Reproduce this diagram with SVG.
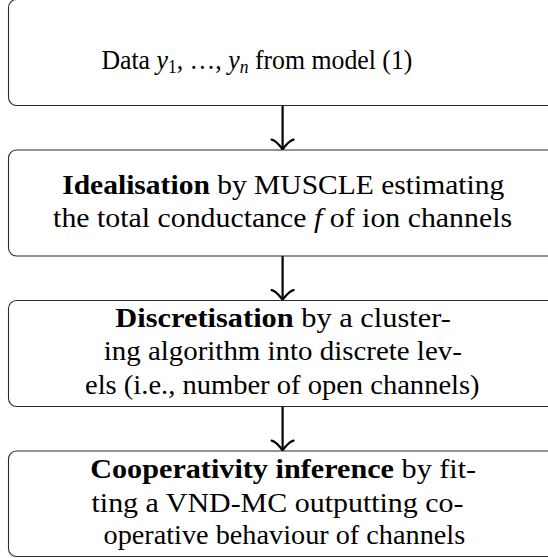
<svg xmlns="http://www.w3.org/2000/svg" width="548" height="558" viewBox="0 0 548 558">
<style>
.box{fill:#fff;stroke:#2a2a2a;stroke-width:1.1}
.t{font-family:"Liberation Serif","Times New Roman",serif;font-size:28px;fill:#000}
.b{font-weight:bold}
.i{font-style:italic}
.sub{font-size:19px}
.shaft{stroke:#000;stroke-width:2.2;fill:none}
.head{stroke:#000;stroke-width:2.2;fill:none;stroke-linecap:round;stroke-linejoin:round}
</style>
<rect width="548" height="558" fill="#fff"/>
<g id="connectors">
  <g id="arrow1">
    <line class="shaft" x1="282.6" y1="105.5" x2="282.6" y2="148.5"/>
    <path class="head" d="M271.6 139.7 C275.7 140.4 281.9 147.9 282.6 150 C283.3 147.9 289.5 140.4 293.6 139.7"/>
  </g>
  <g id="arrow2">
    <line class="shaft" x1="282.6" y1="256" x2="282.6" y2="299"/>
    <path class="head" d="M271.6 290.2 C275.7 290.9 281.9 298.4 282.6 300.5 C283.3 298.4 289.5 290.9 293.6 290.2"/>
  </g>
  <g id="arrow3">
    <line class="shaft" x1="282.6" y1="406.5" x2="282.6" y2="449.5"/>
    <path class="head" d="M271.6 440.7 C275.7 441.4 281.9 448.9 282.6 451 C283.3 448.9 289.5 441.4 293.6 440.7"/>
  </g>
</g>
<g font-family="Liberation Serif, Times New Roman, serif">
<g id="node-data">
  <rect class="box" x="8.5" y="-0.5" width="548.5" height="106" rx="8"/>
  <text class="t" x="101.4" y="68.5" textLength="311" lengthAdjust="spacingAndGlyphs">Data <tspan class="i">y</tspan><tspan class="sub" baseline-shift="-4">1</tspan>, …, <tspan class="i">y</tspan><tspan class="sub i" baseline-shift="-4">n</tspan> from model (1)</text>
</g>
<g id="node-idealisation">
  <rect class="box" x="8.5" y="150" width="548.5" height="106" rx="8"/>
  <text class="t" x="62.2" y="194" textLength="442" lengthAdjust="spacingAndGlyphs"><tspan class="b">Idealisation</tspan> by MUSCLE estimating</text>
  <text class="t" x="53.1" y="227" textLength="459" lengthAdjust="spacingAndGlyphs">the total conductance <tspan class="i">f</tspan> of ion channels</text>
</g>
<g id="node-discretisation">
  <rect class="box" x="8.5" y="300.5" width="548.5" height="106" rx="8"/>
  <text class="t" x="115.3" y="327" textLength="335.6" lengthAdjust="spacingAndGlyphs"><tspan class="b">Discretisation</tspan> by a cluster-</text>
  <text class="t" x="103.8" y="360" textLength="358" lengthAdjust="spacingAndGlyphs">ing algorithm into discrete lev-</text>
  <text class="t" x="85" y="393.5" textLength="394.6" lengthAdjust="spacingAndGlyphs">els (i.e., number of open channels)</text>
</g>
<g id="node-cooperativity">
  <rect class="box" x="8.5" y="451" width="548.5" height="105.5" rx="8"/>
  <text class="t" x="90.2" y="478.3" textLength="386" lengthAdjust="spacingAndGlyphs"><tspan class="b">Cooperativity inference</tspan> by fit-</text>
  <text class="t" x="91.5" y="511.7" textLength="372" lengthAdjust="spacingAndGlyphs">ting a VND-MC outputting co-</text>
  <text class="t" x="103.5" y="543.5" textLength="361.7" lengthAdjust="spacingAndGlyphs">operative behaviour of channels</text>
</g>
</g>
</svg>
